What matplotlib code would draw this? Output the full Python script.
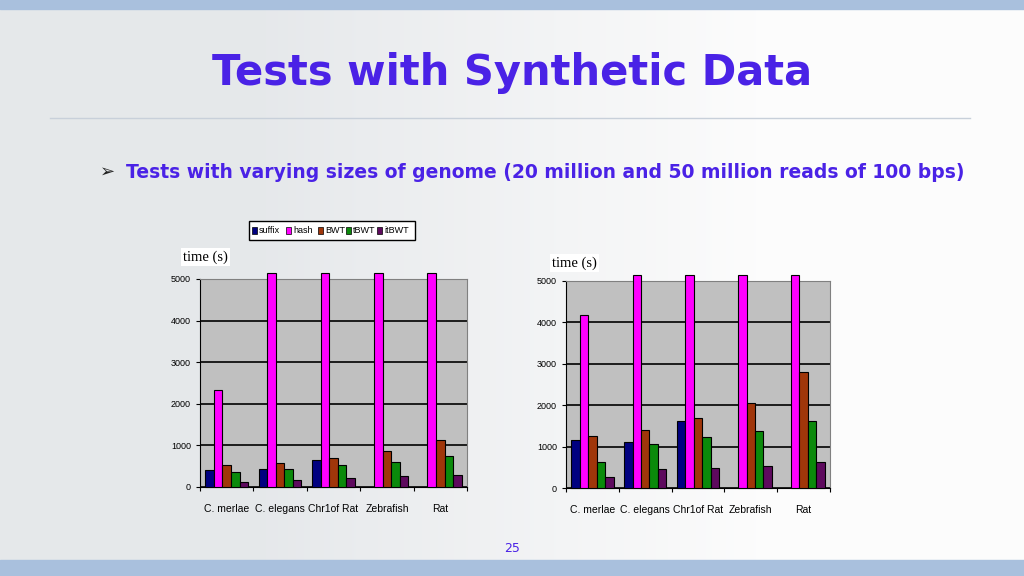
import numpy as np
import matplotlib
matplotlib.use("Agg")
import matplotlib.pyplot as plt
from matplotlib.patches import Rectangle

categories = ["C. merlae", "C. elegans", "Chr1of Rat", "Zebrafish", "Rat"]
series = ["suffix", "hash", "BWT", "tBWT", "itBWT"]
colors = ["#000080", "#FF00FF", "#A0360A", "#0B8A0B", "#5E0A5E"]
HASH_CAP = 5150  # bars exceeding the axis are drawn to just above the top
left_vals = {
    "suffix": [400, 440, 660, np.nan, np.nan],
    "hash": [2330, HASH_CAP, HASH_CAP, HASH_CAP, HASH_CAP],
    "BWT": [520, 570, 700, 870, 1130],
    "tBWT": [350, 440, 520, 610, 740],
    "itBWT": [130, 180, 220, 260, 300],
}
right_vals = {
    "suffix": [1150, 1110, 1630, np.nan, np.nan],
    "hash": [4180, HASH_CAP, HASH_CAP, HASH_CAP, HASH_CAP],
    "BWT": [1260, 1400, 1700, 2060, 2790],
    "tBWT": [630, 1070, 1220, 1370, 1630],
    "itBWT": [260, 450, 490, 520, 630],
}
yticks = [0, 1000, 2000, 3000, 4000, 5000]

W, H = 1024, 576
fig = plt.figure(figsize=(W/100, H/100), dpi=100)
bg = fig.add_axes([0, 0, 1, 1])
bg.set_xlim(0, W); bg.set_ylim(H, 0); bg.axis("off")
bg.imshow(np.array([[0.90, 0.91, 0.92], [0.99, 0.99, 0.99]]).reshape(1, 2, 3),
          extent=[0, W, H, 0], aspect="auto", interpolation="bilinear")
bg.add_patch(Rectangle((0, 0), W, 9, color="#A9C0DD"))
bg.add_patch(Rectangle((0, 560), W, 16, color="#A9C0DD"))
bg.plot([50, 970], [118, 118], color="#C8D0DA", lw=1)
bg.text(512, 73, "Tests with Synthetic Data", ha="center", va="center",
        fontsize=30, fontweight="bold", color="#4A22E6", family="DejaVu Sans")
bg.text(100, 172, "➢", ha="left", va="center", fontsize=13, color="#222222", family="DejaVu Sans")
bg.text(126, 172, "Tests with varying sizes of genome (20 million and 50 million reads of 100 bps)",
        ha="left", va="center", fontsize=13.5, fontweight="bold", color="#4A22E6", family="DejaVu Sans")
bg.text(512, 549, "25", ha="center", va="center", fontsize=9, color="#4A22E6")

def draw(rect, vals, label_xy):
    x0, y0, x1, y1 = rect
    ax = fig.add_axes([x0/W, 1-y1/H, (x1-x0)/W, (y1-y0)/H])
    ax.set_facecolor("#C0C0C0")
    x = np.arange(len(categories))
    bw = 0.16
    for i, s in enumerate(series):
        ax.bar(x + (i-2)*bw, vals[s], bw, color=colors[i], edgecolor="black",
               linewidth=0.8, clip_on=False, zorder=3)
    ax.set_xlim(-0.5, 4.5); ax.set_ylim(0, 5000)
    ax.set_yticks(yticks)
    ax.set_yticklabels([str(t) for t in yticks], fontsize=6.5, family="Liberation Sans")
    ax.yaxis.grid(True, color="black", lw=1.2, zorder=1)
    ax.set_xticks(np.arange(-0.5, 5, 1)); ax.set_xticklabels([])
    ax.set_xticks(x, minor=True)
    ax.set_xticklabels(categories, minor=True, fontsize=7.5, family="Liberation Sans")
    ax.tick_params(axis="x", which="minor", length=0, pad=12)
    ax.tick_params(axis="both", which="major", length=3)
    for sp in ["top", "right"]:
        ax.spines[sp].set_color("#808080")
    bg.text(label_xy[0], label_xy[1], "time (s)", fontsize=10.5, family="Liberation Serif",
            va="center", ha="left", bbox=dict(fc="white", ec="none", pad=1.5))
    return ax

draw((200, 279, 467, 487), left_vals, (183, 257))
draw((566, 281, 830, 488), right_vals, (552, 263))

# legend
lx, ly = 249, 221
bg.add_patch(Rectangle((lx, ly), 166, 19, fc="white", ec="black", lw=1))
names_x = [252, 286, 318, 346, 377]
for i, s in enumerate(series):
    bg.add_patch(Rectangle((names_x[i], ly+6), 5, 7, fc=colors[i], ec="black", lw=0.5))
    bg.text(names_x[i]+7, ly+9.5, s, fontsize=6.5, family="Liberation Sans", va="center")

fig.savefig("out.png", dpi=100)
